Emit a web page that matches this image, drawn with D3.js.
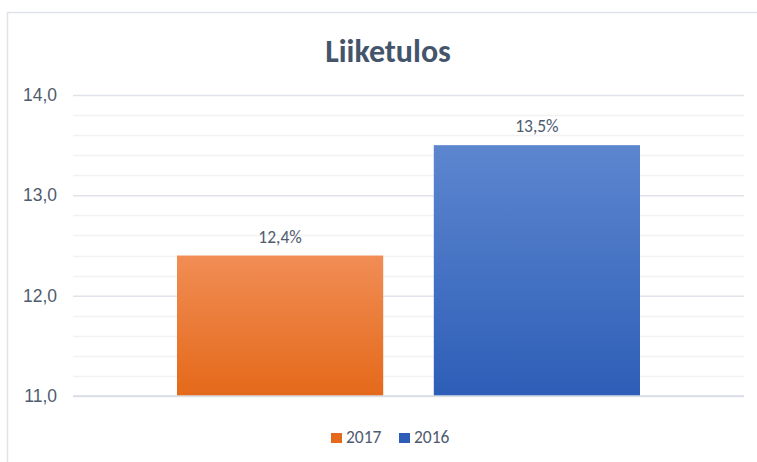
<!DOCTYPE html>
<html>
<head>
<meta charset="utf-8">
<script src="https://cdn.jsdelivr.net/npm/d3@7"></script>
<style>
  body { margin: 0; background: #fff; }
  svg { display: block; font-family: Carlito, Lato, "Open Sans", sans-serif; }
</style>
</head>
<body>
<svg></svg>
<script>
// chart data
const title = "Liiketulos";
const series = ["2017", "2016"];
const values = [12.4, 13.5];
const labels = ["12,4%", "13,5%"];
const yTicks = [11, 12, 13, 14];
const colors = {
  "2017": ["#f18d55", "#e4691a"],
  "2016": ["#5d86cf", "#2d5eb7"]
};

const w = 757;
const h = 462;
const plotLeft = 73, plotRight = 744, plotTop = 95, plotBottom = 396;
const fontSize = "17.5px";

let svg = d3.select("svg").attr("width", w).attr("height", h);

// outer frame (only top/left visible in the crop)
svg.append("rect")
  .attr("x", 7.5).attr("y", 12.5)
  .attr("width", w + 20).attr("height", h + 20)
  .attr("fill", "none")
  .attr("stroke", "#dfe3e8")
  .attr("stroke-width", 1.5);

// gradients
let defs = svg.append("defs");
series.forEach(s => {
  let g = defs.append("linearGradient")
    .attr("id", "grad" + s)
    .attr("x1", 0).attr("y1", 0).attr("x2", 0).attr("y2", 1);
  g.append("stop").attr("offset", "0%").attr("stop-color", colors[s][0]);
  g.append("stop").attr("offset", "100%").attr("stop-color", colors[s][1]);
});

let yScale = d3.scaleLinear().domain([11, 14]).range([plotBottom, plotTop]);

let xScale = d3.scaleBand()
  .domain(series)
  .range([plotLeft, plotRight])
  .paddingInner(0.197)
  .paddingOuter(0.405);

// minor gridlines
let minor = d3.range(11, 14.001, 0.2).filter(v => Math.abs(v - Math.round(v)) > 0.01);
svg.append("g")
  .selectAll("line")
  .data(minor)
  .enter()
  .append("line")
  .attr("x1", plotLeft).attr("x2", plotRight)
  .attr("y1", d => Math.round(yScale(d)) + 0.5)
  .attr("y2", d => Math.round(yScale(d)) + 0.5)
  .attr("stroke", "#f2f2f2")
  .attr("stroke-width", 1.5);

// y axis with major gridlines
let yAxis = d3.axisLeft(yScale)
  .tickValues(yTicks)
  .tickSize(-(plotRight - plotLeft))
  .tickPadding(16)
  .tickFormat(d => d3.format(".1f")(d).replace(".", ","));

let gy = svg.append("g")
  .attr("transform", "translate(" + plotLeft + ",0)")
  .call(yAxis);
gy.select(".domain").remove();
gy.selectAll(".tick line").attr("stroke", "#e0e4ea").attr("stroke-width", 1.5);
gy.selectAll(".tick text")
  .attr("fill", "#4f5b6e")
  .style("font-size", fontSize);

// bars
svg.selectAll(".bar")
  .data(values)
  .enter()
  .append("rect")
  .attr("class", "bar")
  .attr("x", (d, i) => xScale(series[i]))
  .attr("width", xScale.bandwidth())
  .attr("y", d => yScale(d))
  .attr("height", d => yScale(11) - yScale(d))
  .attr("fill", (d, i) => "url(#grad" + series[i] + ")");

// bottom axis line drawn over bars
svg.append("line")
  .attr("x1", plotLeft).attr("x2", plotRight)
  .attr("y1", yScale(11)).attr("y2", yScale(11))
  .attr("stroke", "#d9dde3").attr("stroke-width", 1.5);

// data labels
svg.selectAll(".lbl")
  .data(values)
  .enter()
  .append("text")
  .attr("class", "lbl")
  .attr("x", (d, i) => xScale(series[i]) + xScale.bandwidth() / 2)
  .attr("y", d => yScale(d) - 13)
  .attr("text-anchor", "middle")
  .attr("fill", "#4f5b6e")
  .style("font-size", fontSize)
  .text((d, i) => labels[i]);

// title
svg.append("text")
  .attr("x", 388).attr("y", 62)
  .attr("text-anchor", "middle")
  .attr("fill", "#44546a")
  .style("font-size", "32px")
  .style("font-weight", "bold")
  .text(title);

// legend
let legend = svg.append("g");
let lx = [331, 399];
series.forEach((s, i) => {
  legend.append("rect")
    .attr("x", lx[i]).attr("y", 433)
    .attr("width", 11).attr("height", 10)
    .attr("fill", colors[s][1]);
  legend.append("text")
    .attr("x", lx[i] + 15).attr("y", 443)
    .attr("fill", "#4f5b6e")
    .style("font-size", fontSize)
    .text(s);
});
</script>
</body>
</html>
